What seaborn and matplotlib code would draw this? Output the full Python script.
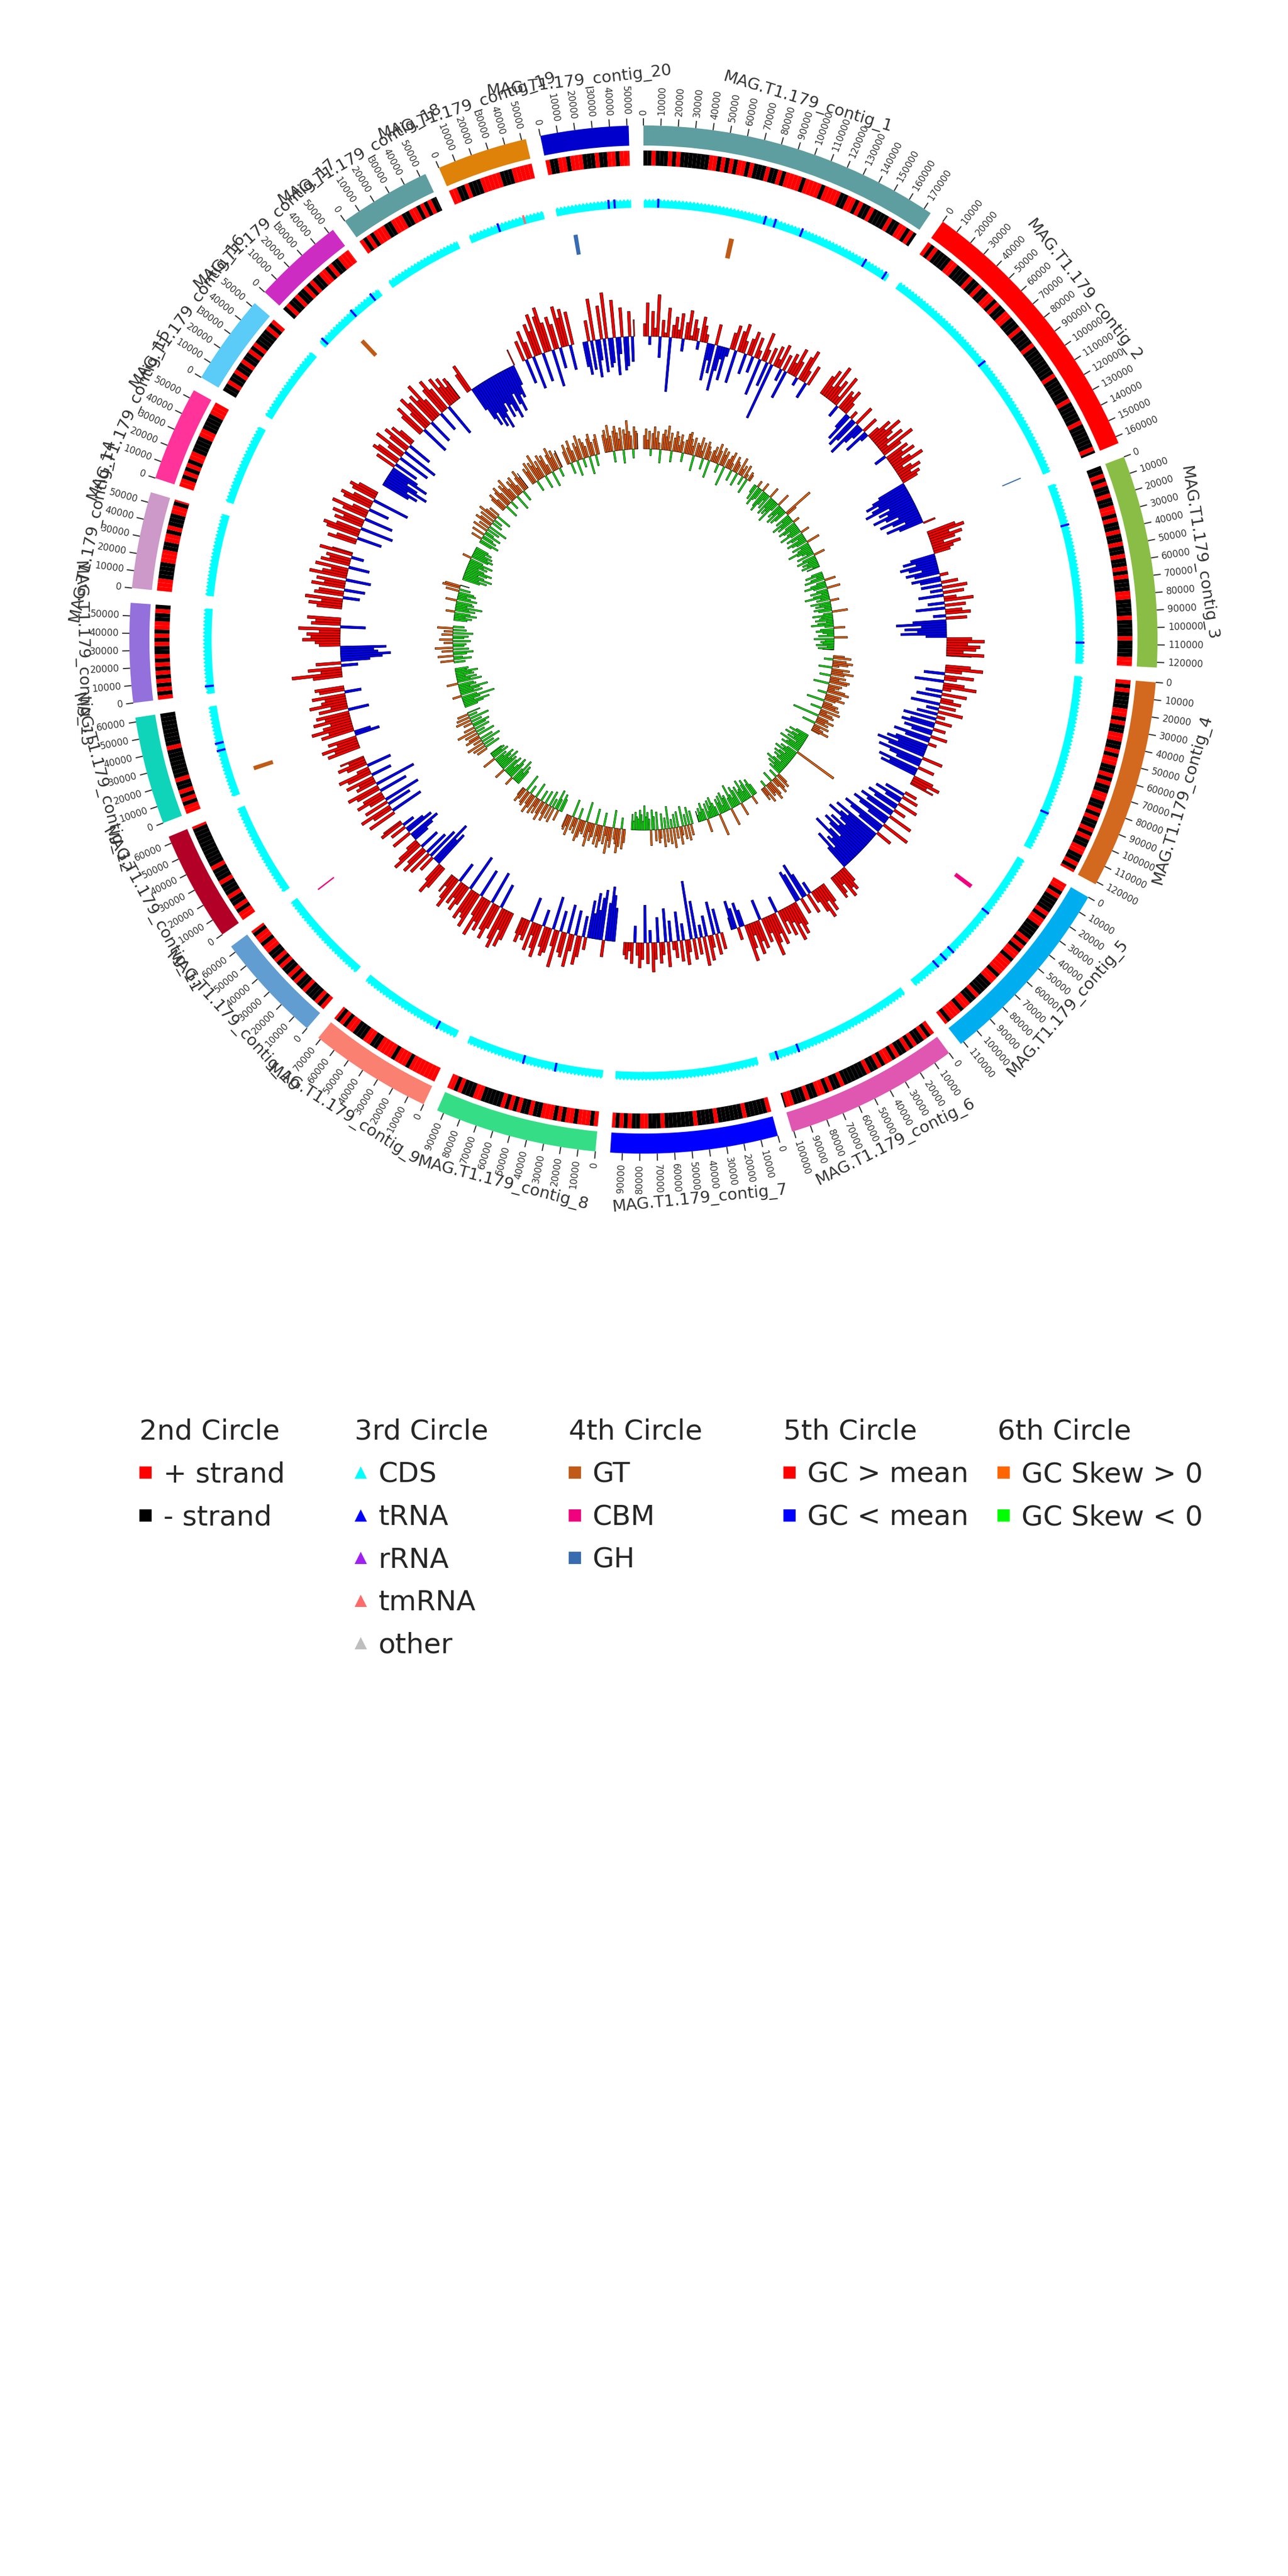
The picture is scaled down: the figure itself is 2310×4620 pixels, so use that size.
import numpy as np
import matplotlib
matplotlib.use("Agg")
import matplotlib.pyplot as plt
from matplotlib.lines import Line2D
import seaborn as sns

sns.set_theme(style="white")
plt.rcParams["font.family"] = ["DejaVu Sans"]

# ---------------- data ----------------
contig_names = ["MAG.T1.179_contig_1", "MAG.T1.179_contig_2", "MAG.T1.179_contig_3",
                "MAG.T1.179_contig_4", "MAG.T1.179_contig_5", "MAG.T1.179_contig_6",
                "MAG.T1.179_contig_7", "MAG.T1.179_contig_8", "MAG.T1.179_contig_9",
                "MAG.T1.179_contig_10", "MAG.T1.179_contig_11", "MAG.T1.179_contig_12",
                "MAG.T1.179_contig_13", "MAG.T1.179_contig_14", "MAG.T1.179_contig_15",
                "MAG.T1.179_contig_16", "MAG.T1.179_contig_17", "MAG.T1.179_contig_18",
                "MAG.T1.179_contig_19", "MAG.T1.179_contig_20"]
contig_sizes = [174500, 164000, 123000, 121500, 112000, 101000, 97000, 94000, 71500, 64000,
                64000, 62500, 57500, 56000, 55000, 52500, 53000, 53500, 52500, 51000]
contig_colors = ["#5F9EA0", "#FF0000", "#8ABD45", "#D2691E", "#00AEEF", "#DF57B1", "#0000FF",
                 "#35DE86", "#FA8072", "#629DD1", "#B30026", "#10D4BA", "#9370DB", "#CC99C8",
                 "#FF3399", "#5BCBF7", "#CD2CC3", "#5F9EA0", "#DE820A", "#0000CC"]

# strand of genes, one character per 2.5 kb bin ('+' / '-')
strand_c1 = "--+---+-+-------++-+-+-++-+---+--+-++++-++++-++++--++-+--+----+--++-+-"
strand_c2 = "+-+----++----+--+--++-+--++---+----+--------+------+-----+------+---"
strand_c3 = "--+-+--+--++-+--+--+--+--+-+---++----+----+----+++"
strand_c4 = "+-+----++-+--++--+-++--+-+--++--+-+--+-+--++--+-+"
strand_c5 = "++-+----+-++----+-+-++-++++-++----+--++-+++-+"
strand_c6 = "+-+--+-+--+-++-+--+------+--+-++--+---++-"
strand_c7 = "+-----+------+----+-------+---++--+-+-+"
strand_c8 = "+-+++-++-+-+++--+--+-+-+-----++---+-+++"
strand_c9 = "+++++++-+++-++++--++---++-+-++"
strand_c10 = "+-+---+--+-+--+-+--++-++-+"
strand_c11 = "++-+--+---+---+----------+"
strand_c12 = "++-+-+--+-------+--------"
strand_c13 = "+-+-+-+-+-+--+-+-++--+-"
strand_c14 = "+++----+++--++-+---++-+"
strand_c15 = "++-+-+-++----++----+++"
strand_c16 = "--+--+--+--+-+----+-+"
strand_c17 = "-+--+--+-+--++-+--++++"
strand_c18 = "+-+-+++--+++--++-+-+--"
strand_c19 = "++--+---+++++---+++++"
strand_c20 = "+--++-+++---+--++-+++"

# GC content deviation from mean (% points), one value per 2.5 kb window
gc_c1 = [3, 8, -2, 6, 2, 10, -5, 4, 1, 7, -13, 3, 5, 2, 6, -3, 4, 7, 1, 5, 3, -2, 6, 4, 2,
         -9, -4, -7, 5, -11, -6, -3, -8, -2, 4, 6, -8, 5, 7, 3, -5, 4,
         6, -4, 5, 2, -9, 7, 3, -6, 4, -14, 5, 2, 6, -3, 4, -7, 5, 3, 7, 4, -2, 6, 8, 3, -4, 5]
gc_c2 = [5, 7, 3, 9, 4, 6, 2, 8, -3, 5, 4, 6, 3, -4, -7, 2, -8, -6, 5, -9, -5, -3, 4, -6, -2, 3,
         6, 4, 8, 5, 3, 7, 2, 9, 5, -3, 6, 4, 7, 3, 5, 8, 2, 4, 6, 3, 5,
         4, -7, -9, -11, -8, -10, -12, -6, -9, -7, -11, -8, -5, -10, -7, -4, -9, -6, 3]
gc_c3 = [7, 9, 5, 8, 6, 3, 7, 5, 4, -6, -8, -5, -9, -7, -4, -8, -6, 2, -7, -5,
         4, -5, 6, -3, 5, -6, 3, 7, -4, 5, -7, 4, 6, -3, 5, -8, -12, -6, -10, -7, -11, -5,
         6, 9, 5, 8, 7, 4, 9, 6]
gc_c4 = [6, 9, 4, -5, 7, 3, -7, 5, 8, 2, -4, 6, -6, 3, 5, -7, 4, -3, 6, -5, 2, -8, 4,
         -6, -8, 3, -7, -5, 4, -9, -6, 2, -8, -10, -7, -12, -9, 5, -11, -8, -6, 4, -10, -7, -9,
         5, 7, 4, 6]
gc_c5 = [3, -5, 4, -7, -4, 5, -8, -6, 3, -9, -7, 6, -10, -8, -5, 7, -11, -9, -6, 4, -12, -8,
         -10, -13, -9, -7, -11, -8, -12, -10, -6, -9, -13, -7, -8, -5, -10, -6, 4, 6, 5, 7, 3, 5, 6]
gc_c6 = [5, 7, 4, 8, 6, 3, -3, 5, -6, -9, 4, -7, -8, 6, 8, 5, 9, 4, 7, 3, 6, -4, 8, 5, 7, 10,
         4, 6, -5, 7, 5, 8, 3, 6, 9, -4, -6, 3, -5, -7, -3]
gc_c7 = [4, -6, 5, -8, 3, 6, -5, 7, -3, 4, -9, 5, -14, 3, 6, -4, 5, -7, 4, 2, -5, 6, -8, 3, 5,
         -6, 4, 7, -3, 5, -9, 4, 6, 3, -4, 5, 2, 4, 3]
gc_c8 = [-8, -11, -13, -9, 4, -12, -10, -7, -11, -6, -9, 3, -5, 5, 7, -6, 4, 8, -7, 6, 5, -5,
         9, 4, -8, 6, 7, 5, -4, 8, 6, 3, 7, -6, 5, 4, 6, 4]
gc_c9 = [7, 9, 5, 10, 8, -6, 6, 9, 7, -8, 8, 6, 10, 5, -7, 9, 7, 6, 8, -9, 5, 7, 4, 6, -5, 8, 6, 3, 5]
gc_c10 = [6, 8, 5, -9, -7, -11, 4, -8, 6, -6, 7, 5, -5, 8, 6, 3, -4, -6, -8, 5, -7, -5, 4, -3, 6, 5]
gc_c11 = [7, -8, 5, 8, -6, 6, -9, 4, 7, 5, -7, 6, 8, -10, 5, 4, 7, -5, 6, 8, 3, -6, 5, 7, 4, 6]
gc_c12 = [8, 6, 9, 5, 7, -6, -4, 8, 6, 10, 7, 5, 9, 6, 8, -5, 7, 4, 9, 6, 5, 8, -4, 6, 7]
gc_c13 = [7, 12, 5, 8, -4, 6, -7, -10, -12, -9, -8, -11, 5, 6, 9, 7, 8, 5, 10, -6, 7, 6, 8]
gc_c14 = [6, 8, 5, 9, -4, 7, 6, -5, 8, 5, 7, -6, 9, 6, 4, 8, -5, 7, 5, 6, -3, 8, 5]
gc_c15 = [7, 5, -6, 8, 9, 6, -8, 7, 5, 8, -7, 6, 9, 4, -5, 7, 8, 5, -9, 6, 7, 5]
gc_c16 = [-7, -9, -6, -11, -8, -5, -10, -7, 5, -6, 7, 6, -8, 4, 8, -9, 5, 7, -6, 6, 4]
gc_c17 = [6, 8, -7, 5, 9, 7, -6, 8, 6, 10, 5, -5, 7, 9, 6, -8, 8, 5, 7, 4, 6, 5]
gc_c18 = [5, 7, -6, -9, -11, -8, -12, -10, -13, -9, -7, -11, -8, -10, -12, -6, -9, -11, -7, -8, -5, 4]
gc_c19 = [5, -6, 7, 4, -8, 8, 6, 10, -7, 9, 11, 7, -9, 8, 6, -5, 10, 7, 9, -6, 8]
gc_c20 = [-6, -8, 5, -7, 10, -9, -5, 8, -8, 11, -7, -6, 9, -9, -4, 7, -8, -7, 6, -6, 4]

# GC skew (x100), one value per 2.5 kb window
sk_c1 = [6, 9, 4, 8, -3, 7, 10, 5, 8, 3, -6, 7, 9, 6, 11, 4, 8, -5, 6, 9, 7, 3, 8, 5, -4, 6, 9,
         10, 7, 4, 8, -7, 6, 5, 9, 3, 7, -5, 8, 6, 4, -8, 5, 7, 3, 9, 6, -4, 8, 5, 7, -9, 4, 6,
         8, 3, -5, 7, 5, 4, -6, 8, 3, 5, -4, 6, 2, -7, 4, 3]
sk_c2 = [-4, -7, 3, -9, -6, -5, 4, -8, -10, -6, -3, -7, 5, -9, -5, -8, -6, -11, -4, 6, -7, -5,
         -9, -3, -8, -6, 14, 5, -7, -4, -10, -6, -8, 3, -5, -9, -7, -4, -6, -10, -5, 4, -8, -6,
         -3, -9, -7, -5, 6, -8, -4, -6, -11, -7, -5, -3, -8, 5, -6, -9, -4, -7, -5, -8, -3, -6]
sk_c3 = [-5, -8, -3, -6, -9, 5, -4, -7, -10, -6, 6, -5, -8, -3, -7, -11, -4, -6, 4, -9, -5, -7,
         -3, -8, -6, 7, -4, -9, -5, -6, -8, -3, -7, -10, -4, 5, -6, -8, -5, -3, -7, 6, -9, -4,
         -6, -5, -8, -3, -7, -5]
sk_c4 = [5, 8, -4, 6, 9, 7, 3, -6, 8, 5, 10, 6, -5, 7, 4, 9, 8, -7, 6, 5, 3, 8, 10, -4, 7, 6,
         9, 5, -8, 4, 7, 6, 8, -5, 9, 3, 6, 7, -12, 5, 8, 4, 6, -6, 7, 3, 5, 8, 4]
sk_c5 = [-6, -9, -4, -7, -10, -5, -8, -3, -11, -6, -7, -9, 20, -5, -8, -6, -10, -4, -7, -9, -5,
         -8, -6, -3, -7, -10, -5, -8, -4, -6, 5, 7, -4, 6, 8, 4, -5, 7, 9, 5, 6, -3, 8, 4, 6]
sk_c6 = [-5, -8, -6, 4, -9, -7, -4, -10, -6, -5, -8, 6, -7, -9, -4, -6, -11, -5, 8, -7, -6, -9,
         -3, -8, -5, -7, 10, -4, -6, -9, -5, -8, -3, -7, 6, -5, -8, -4, -6, -3, -5]
sk_c7 = [-6, 5, -8, 7, -5, 6, -9, 4, 8, -7, 5, -6, 9, -4, 7, -10, 6, -5, 8, -7, 4, 6, -8, 5, -6,
         -9, 7, -5, -8, -6, -11, -4, -7, -9, -5, -6, -8, -4, -7]
sk_c8 = [6, 9, -5, 8, 11, 7, 5, -8, 9, 6, 12, 4, 8, -6, 7, 10, 5, 9, -7, 6, 8, 4, 11, 7, -9, 6,
         5, 8, 10, -5, 7, 4, 6, -8, 9, 5, 7, 6]
sk_c9 = [-6, -8, 5, -5, -9, 7, -4, 6, -7, 8, 5, -6, 9, 6, -5, 7, 4, 8, -7, 6, 9, 5, -4, 7, 6, -8, 5, 7, 4]
sk_c10 = [-7, -9, -5, -11, -6, 4, -8, -10, -6, -4, -9, -7, 5, -8, -6, -10, -5, -7, -9, -4, -6, 6, -8, -5, -7, -6]
sk_c11 = [5, -7, 6, -5, 8, -9, 4, -6, 7, 5, -8, 6, -4, 9, -7, 5, -6, -8, 4, -5, 7, -9, 6, -4, 5, -6]
sk_c12 = [-6, -9, -12, -5, -8, -15, -7, 4, -10, -6, -9, -13, -5, -8, -7, 5, -11, -6, -9, -4, -8, -7, -10, -5, -6]
sk_c13 = [-5, 6, -8, -4, 7, -6, -9, 5, -7, 8, -5, -6, 4, -8, 6, -5, -7, 5, -9, 4, -6, 7, -5]
sk_c14 = [-6, -8, -5, -10, -7, 4, -9, -6, -12, -5, -8, -7, 5, -9, -6, -4, -8, -7, 6, -5, 8, 7, -4]
sk_c15 = [-8, -11, -7, -13, -9, -6, -10, -12, -8, -5, -9, -7, -11, -6, 4, -8, -10, -7, -9, -5, -8, -6]
sk_c16 = [-6, -9, 5, -7, -5, 6, -8, -4, 7, -6, 5, -9, 8, 6, -5, 7, -4, 9, 6, -7, 5]
sk_c17 = [7, 9, 5, -6, 8, 10, 6, -4, 9, 7, 11, 5, -7, 8, 6, 9, 4, -5, 7, 10, 6, 8]
sk_c18 = [8, 6, 10, -5, 9, 7, 12, 5, 8, -6, 10, 7, 9, 4, -7, 8, 11, 6, 9, -4, 7, 8]
sk_c19 = [6, 9, -5, 7, 10, 5, -7, 8, 6, 11, -4, 9, 7, 5, -8, 8, 10, 6, -5, 7, 9]
sk_c20 = [8, 10, 6, 12, 7, -5, 9, 11, 8, 5, 10, -6, 9, 7, 13, 8, 6, -4, 10, 8, 7]

# RNA features on the 3rd circle (contig index 1-based, position in bp)
trna_contig = [1, 1, 1, 1, 1, 1, 2, 3, 3, 4, 5, 5, 5, 5, 6, 6, 8, 8, 9, 12, 12, 13, 17, 17, 17, 19, 20, 20]
trna_pos = [10000, 83000, 90000, 109000, 156000, 172000, 78000, 29000, 109000, 95000, 43000,
            78000, 85000, 92000, 81000, 96000, 32000, 54000, 14000, 32000, 37000, 5000, 3000,
            30000, 47000, 21000, 36000, 40000]
tmrna_contig = [19]
tmrna_pos = [39000]

# CAZy genes on the 4th circle
cazy_contig = [1, 20, 2, 5, 12, 10, 17]
cazy_pos = [62000, 9000, 160000, 34000, 12000, 59000, 20000]
cazy_len = [3500, 3000, 800, 3000, 3000, 1000, 3000]
cazy_type = ["GT", "GH", "GH", "CBM", "GT", "CBM", "GT"]

strand_all = [strand_c1, strand_c2, strand_c3, strand_c4, strand_c5, strand_c6, strand_c7,
              strand_c8, strand_c9, strand_c10, strand_c11, strand_c12, strand_c13, strand_c14,
              strand_c15, strand_c16, strand_c17, strand_c18, strand_c19, strand_c20]
gc_all = [gc_c1, gc_c2, gc_c3, gc_c4, gc_c5, gc_c6, gc_c7, gc_c8, gc_c9, gc_c10, gc_c11,
          gc_c12, gc_c13, gc_c14, gc_c15, gc_c16, gc_c17, gc_c18, gc_c19, gc_c20]
sk_all = [sk_c1, sk_c2, sk_c3, sk_c4, sk_c5, sk_c6, sk_c7, sk_c8, sk_c9, sk_c10, sk_c11,
          sk_c12, sk_c13, sk_c14, sk_c15, sk_c16, sk_c17, sk_c18, sk_c19, sk_c20]
BIN = 2500

# ---------------- styles ----------------
accent = sns.color_palette("Accent", 8).as_hex()
cazy_colors = {"GT": accent[6], "CBM": accent[5], "GH": accent[4]}
PLUS, MINUS = "#FF0000", "#000000"
CDS_C, TRNA_C, RRNA_C, TMRNA_C, OTHER_C = "#00FFFF", "#0000FF", "#A020F0", "#FF6A6A", "#BEBEBE"
GC_HI, GC_LO = "#FF0000", "#0000FF"
SK_HI, SK_LO = "#FF6600", "#00FF00"
TXT = "#333333"

W, H, DPI = 2310, 4620, 300
fig = plt.figure(figsize=(W / DPI, H / DPI), dpi=DPI)
CX, CY, RMAX = 1154, 1147, 1150
ax = fig.add_axes([(CX - RMAX) / W, (H - CY - RMAX) / H, 2 * RMAX / W, 2 * RMAX / H],
                  projection="polar")
ax.set_theta_zero_location("N")
ax.set_theta_direction(-1)
ax.set_ylim(0, RMAX)
ax.set_axis_off()

GAP = 1.65
n_ctg = len(contig_sizes)
deg_per_bp = (360 - GAP * n_ctg) / sum(contig_sizes)
starts = []
acc = 0.0
for size in contig_sizes:
    starts.append(acc)
    acc += size * deg_per_bp + GAP


def th(i, pos):
    return np.deg2rad(starts[i] + np.asarray(pos, dtype=float) * deg_per_bp)


R_BLK0, R_BLK1 = 886, 922
R_STR0, R_STR1 = 850, 877
R_CDS0, R_CDS1, R_CDS2 = 775, 787, 791
R_CZ0, R_CZ1 = 700, 736
R_GC, GC_SCALE = 544, 7.5
R_SK, SK_SCALE = 342, 4.0
EDGE_LW = 0.18

for i, size in enumerate(contig_sizes):
    span = np.deg2rad(size * deg_per_bp)
    # outer contig block
    ax.bar(th(i, 0), R_BLK1 - R_BLK0, width=span, bottom=R_BLK0, align="edge",
           color=contig_colors[i], linewidth=0)
    # ticks
    for p in range(0, size + 1, 10000):
        t = float(th(i, p))
        deg = np.rad2deg(t) % 360
        ax.plot([t, t], [R_BLK1, R_BLK1 + 13], color=TXT, lw=0.5, solid_capstyle="butt")
        if deg < 180:
            rot, ha = 90 - deg, "left"
        else:
            rot, ha = 270 - deg, "right"
        ax.text(t, R_BLK1 + 19, f"{p}", rotation=rot, rotation_mode="anchor", ha=ha,
                va="center", fontsize=4, color=TXT)
    # name
    mid = starts[i] + size * deg_per_bp / 2
    rot = 180 - mid if 90 <= mid < 270 else -mid
    ax.text(np.deg2rad(mid), 1008, contig_names[i], rotation=rot, rotation_mode="anchor",
            ha="center", va="center", fontsize=7, color=TXT)

    # strand ring
    pat = strand_all[i]
    pos = np.arange(len(pat)) * BIN
    keep = pos < size
    pos = pos[keep]
    widths = np.minimum(BIN, size - pos)
    cols = [PLUS if c == "+" else MINUS for c in np.array(list(pat))[keep]]
    ax.bar(th(i, pos), R_STR1 - R_STR0, width=np.deg2rad(widths * deg_per_bp), bottom=R_STR0,
           align="edge", color=cols, linewidth=0)

    # CDS ring with arrow-like serrated edge (one tooth per gene bin)
    edges = np.append(pos, size)
    tp, tr = [], []
    for a, b in zip(edges[:-1], edges[1:]):
        tp += [a, (a + b) / 2]
        tr += [R_CDS1, R_CDS2]
    tp.append(size)
    tr.append(R_CDS1)
    tt = th(i, tp)
    ax.fill_between(tt, R_CDS0, tr, color=CDS_C, linewidth=0)

    # GC content
    g = np.array(gc_all[i], dtype=float)
    gp = np.arange(len(g)) * BIN
    k = gp < size
    g, gp = g[k], gp[k]
    gw = np.minimum(BIN, size - gp)
    ax.bar(th(i, gp), g * GC_SCALE, width=np.deg2rad(gw * deg_per_bp), bottom=R_GC,
           align="edge", color=[GC_HI if v > 0 else GC_LO for v in g],
           edgecolor="black", linewidth=EDGE_LW)

    # GC skew
    s = np.array(sk_all[i], dtype=float)
    sp = np.arange(len(s)) * BIN
    k = sp < size
    s, sp = s[k], sp[k]
    sw = np.minimum(BIN, size - sp)
    ax.bar(th(i, sp), s * SK_SCALE, width=np.deg2rad(sw * deg_per_bp), bottom=R_SK,
           align="edge", color=[SK_HI if v > 0 else SK_LO for v in s],
           edgecolor="black", linewidth=EDGE_LW)

# tRNA / tmRNA marks
for c, p in zip(trna_contig, trna_pos):
    t = float(th(c - 1, p))
    ax.plot([t, t], [R_CDS0, R_CDS2], color=TRNA_C, lw=0.9, solid_capstyle="butt")
for c, p in zip(tmrna_contig, tmrna_pos):
    t = float(th(c - 1, p))
    ax.plot([t, t], [R_CDS0, R_CDS2], color=TMRNA_C, lw=0.9, solid_capstyle="butt")

# CAZy marks
for c, p, L, typ in zip(cazy_contig, cazy_pos, cazy_len, cazy_type):
    ax.bar(th(c - 1, p), R_CZ1 - R_CZ0, width=np.deg2rad(L * deg_per_bp), bottom=R_CZ0,
           align="edge", color=cazy_colors[typ], linewidth=0)

# ---------------- legends ----------------
def h(color, marker):
    return Line2D([], [], ls="", marker=marker, color=color, markersize=5.5, markeredgewidth=0)


legend_specs = [
    ("2nd Circle", [("+ strand", PLUS, "s"), ("- strand", MINUS, "s")]),
    ("3rd Circle", [("CDS", CDS_C, "^"), ("tRNA", TRNA_C, "^"), ("rRNA", RRNA_C, "^"),
                    ("tmRNA", TMRNA_C, "^"), ("other", OTHER_C, "^")]),
    ("4th Circle", [("GT", cazy_colors["GT"], "s"), ("CBM", cazy_colors["CBM"], "s"),
                    ("GH", cazy_colors["GH"], "s")]),
    ("5th Circle", [("GC > mean", GC_HI, "s"), ("GC < mean", GC_LO, "s")]),
    ("6th Circle", [("GC Skew > 0", SK_HI, "s"), ("GC Skew < 0", SK_LO, "s")]),
]
leg_x = [240, 626, 1010, 1395, 1779]
leg_top = 2534
for (title, items), x in zip(legend_specs, leg_x):
    leg = fig.legend(handles=[h(c, m) for _, c, m in items], labels=[l for l, _, _ in items],
                     title=title, loc="upper left", bbox_to_anchor=(x / W, 1 - leg_top / H),
                     frameon=False, fontsize=12, title_fontsize=12, handlelength=0.45,
                     handletextpad=0.4, labelspacing=0.57, borderpad=0.2, borderaxespad=0)
    leg._legend_box.align = "left"

fig.savefig("out.png", dpi=DPI, facecolor="white")
